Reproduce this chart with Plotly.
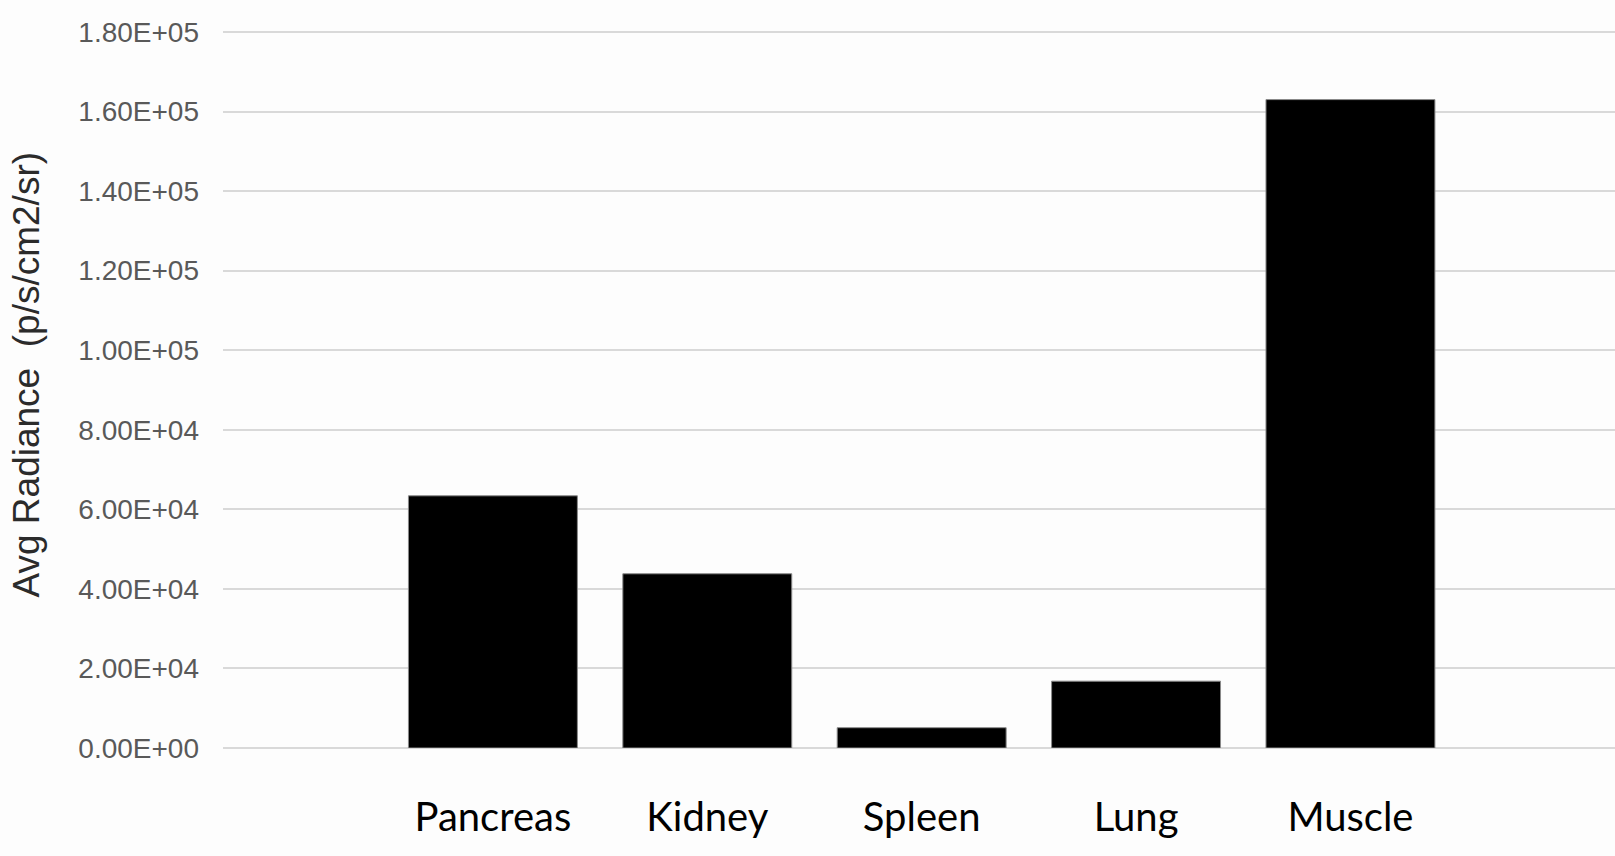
import plotly.graph_objects as go

categories = ["Pancreas", "Kidney", "Spleen", "Lung", "Muscle"]
avg_radiance = [63400, 43800, 5100, 16800, 163000]

y_tick_vals = [0, 20000, 40000, 60000, 80000, 100000, 120000, 140000, 160000, 180000]
y_tick_text = ["0.00E+00", "2.00E+04", "4.00E+04", "6.00E+04", "8.00E+04",
               "1.00E+05", "1.20E+05", "1.40E+05", "1.60E+05", "1.80E+05"]

y_title = "Avg Radiance\u00a0 (p/s/cm2/sr)"

W, H = 1615, 856
ML, MR, MT = 223, 0, 28
MB = H - 748

fig = go.Figure()
fig.add_trace(go.Bar(
    x=categories,
    y=avg_radiance,
    marker=dict(color="#000000", line=dict(color="#8a8a8a", width=1)),
    showlegend=False,
))

fig.update_layout(
    width=W, height=H,
    margin=dict(l=ML, r=MR, t=MT, b=MB, pad=0),
    paper_bgcolor="#fdfdfd",
    plot_bgcolor="#fdfdfd",
    bargap=0.212,
    xaxis=dict(
        range=[-1.259, 5.234],
        showgrid=False,
        showline=False,
        zeroline=False,
        ticks="",
        tickfont=dict(family="Lato, Carlito, Calibri, sans-serif", size=40, color="#000000"),
        ticklabelstandoff=42,
    ),
    yaxis=dict(
        range=[0, 181000],
        tickvals=y_tick_vals,
        ticktext=y_tick_text,
        showgrid=True,
        gridcolor="#d9d9d9",
        gridwidth=1.6,
        zeroline=True,
        zerolinecolor="#d9d9d9",
        zerolinewidth=1.6,
        showline=False,
        ticks="",
        tickfont=dict(family="Liberation Sans, Arial, sans-serif", size=28, color="#595959"),
        ticklabelstandoff=23,
    ),
)

plot_w = W - ML - MR
plot_h = H - MT - MB
fig.add_annotation(
    text=y_title,
    xref="paper", yref="paper",
    x=(26 - ML) / plot_w, y=(748 - 374.5) / plot_h,
    xanchor="center", yanchor="middle",
    textangle=-90,
    showarrow=False,
    font=dict(family="Liberation Sans, Arial, sans-serif", size=37, color="#2b2b2b"),
)

fig.write_html(
    "out.html",
    config={"displayModeBar": False},
    post_script="document.body.style.margin='0';document.body.style.background='#fdfdfd';",
)
